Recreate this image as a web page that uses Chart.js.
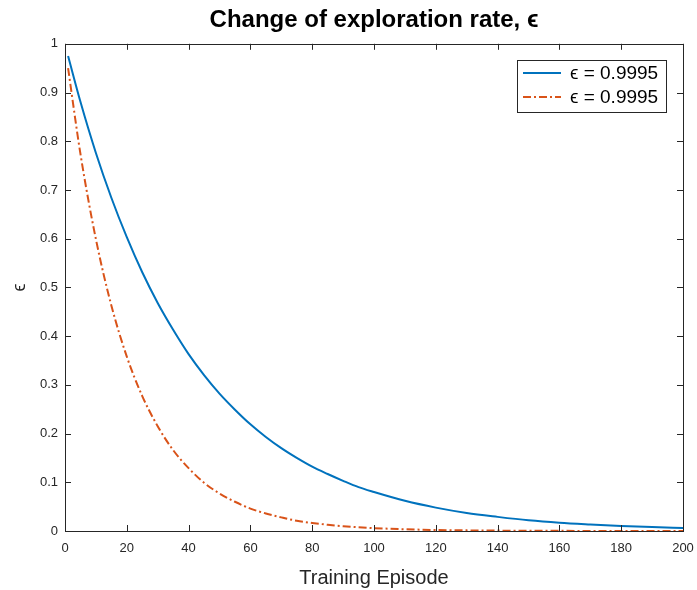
<!DOCTYPE html>
<html><head><meta charset="utf-8">
<script src="https://cdn.jsdelivr.net/npm/chart.js@4.4.1/dist/chart.umd.min.js"></script>
<style>html,body{margin:0;padding:0;background:#fff}#wrap{width:697px;height:590px}</style>
</head><body><div id="wrap"><canvas id="c" width="697" height="590"></canvas></div>
<script>
const episodes = [1,5,10,15,20,25,30,35,40,45,50,55,60,65,70,75,80,85,90,95,100,110,120,130,140,150,160,170,180,190,200];
const blueValues = [0.975,0.881,0.776,0.684,0.603,0.531,0.468,0.413,0.363,0.320,0.282,0.249,0.219,0.193,0.170,0.150,0.132,0.117,0.103,0.090,0.080,0.062,0.048,0.037,0.029,0.022,0.017,0.0135,0.0105,0.008,0.0063];
const redValues = [0.950,0.774,0.599,0.463,0.358,0.277,0.215,0.166,0.129,0.099,0.077,0.060,0.046,0.036,0.028,0.021,0.0165,0.0128,0.0099,0.0077,0.0059,0.0036,0.0021,0.0013,0.0008,0.0005,0.0003,0.0002,0.0001,0.0001,0.0000];
const seriesLabels = ['\u03f5 = 0.9995','\u03f5 = 0.9995'];
const xTicks = [0,20,40,60,80,100,120,140,160,180,200];
const yTicks = [0,0.1,0.2,0.3,0.4,0.5,0.6,0.7,0.8,0.9,1];

const FONT = "'Liberation Sans', Arial, Helvetica, sans-serif";
const AXC = '#262626';

const boxTicks = {
  id:'boxTicks',
  afterDatasetsDraw(chart){
    const {ctx, chartArea:a, scales:{x,y}} = chart;
    ctx.save();
    ctx.strokeStyle = AXC; ctx.lineWidth = 1;
    ctx.strokeRect(Math.round(a.left)+0.5, Math.round(a.top)+0.5, Math.round(a.right-a.left), Math.round(a.bottom-a.top));
    ctx.beginPath();
    const L = 6;
    xTicks.forEach(v=>{const px=Math.round(x.getPixelForValue(v))+0.5;
      ctx.moveTo(px,a.bottom);ctx.lineTo(px,a.bottom-L);ctx.moveTo(px,a.top);ctx.lineTo(px,a.top+L);});
    yTicks.forEach(v=>{const py=Math.round(y.getPixelForValue(v))+0.5;
      ctx.moveTo(a.left,py);ctx.lineTo(a.left+L,py);ctx.moveTo(a.right,py);ctx.lineTo(a.right-L,py);});
    ctx.stroke();
    // legend box
    const bx = Math.round(a.right)-166, by = Math.round(a.top)+16, bw = 149, bh = 52;
    ctx.fillStyle='#fff'; ctx.fillRect(bx,by,bw,bh);
    ctx.strokeStyle = AXC; ctx.strokeRect(bx+0.5,by+0.5,bw,bh);
    chart.data.datasets.forEach((ds,i)=>{
      const ly = by+13+i*24;
      ctx.beginPath(); ctx.strokeStyle=ds.borderColor; ctx.lineWidth=2;
      ctx.setLineDash(ds.borderDash||[]);
      ctx.moveTo(bx+6,ly); ctx.lineTo(bx+44,ly); ctx.stroke(); ctx.setLineDash([]);
      ctx.fillStyle='#000'; ctx.font='19px '+FONT; ctx.textBaseline='middle'; ctx.textAlign='left';
      ctx.fillText(ds.label, bx+53, ly+1);
    });
    ctx.restore();
  }
};

new Chart(document.getElementById('c'), {
  type:'line',
  data:{datasets:[
    {label:seriesLabels[0], data:episodes.map((e,i)=>({x:e,y:blueValues[i]})), borderColor:'#0072BD', borderWidth:2, pointRadius:0, cubicInterpolationMode:'monotone', fill:false},
    {label:seriesLabels[1], data:episodes.map((e,i)=>({x:e,y:redValues[i]})), borderColor:'#D95319', borderWidth:2, borderDash:[8,3,2,3], pointRadius:0, cubicInterpolationMode:'monotone', fill:false}
  ]},
  options:{
    responsive:false, animation:false,
    layout:{padding:{left:0,right:14,top:0,bottom:0}},
    plugins:{
      legend:{display:false}, tooltip:{enabled:false},
      title:{display:true, fullSize:false, text:'Change of exploration rate, \u03f5', color:'#000', font:{family:FONT,size:24,weight:'bold'}, padding:{top:6,bottom:9}}
    },
    scales:{
      x:{type:'linear', min:0, max:200,
        afterBuildTicks(s){s.ticks = xTicks.map(v=>({value:v}));},
        afterFit(s){s.height = 59; s.paddingLeft = 0; s.paddingRight = 0;},
        grid:{drawOnChartArea:false, drawTicks:false},
        border:{display:false},
        ticks:{color:AXC, font:{family:FONT,size:13}, padding:10, maxRotation:0},
        title:{display:true, text:'Training Episode', color:AXC, font:{family:FONT,size:20}, padding:{top:8,bottom:0}}
      },
      y:{type:'linear', min:0, max:1,
        afterBuildTicks(s){s.ticks = yTicks.map(v=>({value:v}));},
        afterFit(s){s.width = 65; s.paddingTop = 0; s.paddingBottom = 0;},
        grid:{drawOnChartArea:false, drawTicks:false},
        border:{display:false},
        ticks:{color:AXC, font:{family:FONT,size:13}, padding:7, callback:v=>String(Math.round(v*10)/10)},
        title:{display:true, text:'\u03f5', color:AXC, font:{family:FONT,size:18}, padding:{top:9,bottom:4}}
      }
    }
  },
  plugins:[boxTicks]
});
</script></body></html>
